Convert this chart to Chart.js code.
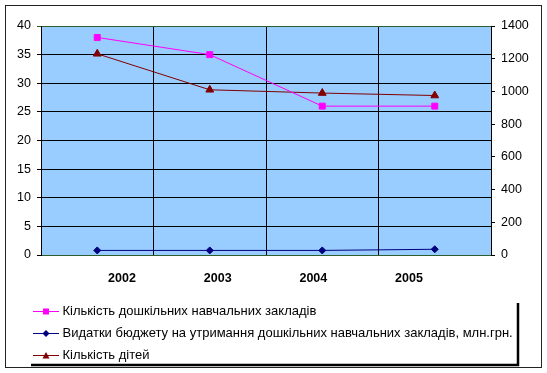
<!DOCTYPE html>
<html>
<head>
<meta charset="utf-8">
<script src="https://cdn.jsdelivr.net/npm/chart.js@4.4.0/dist/chart.umd.min.js"></script>
<style>
  html, body { margin: 0; padding: 0; background: #fff; }
</style>
</head>
<body>
<canvas id="myChart" width="547" height="373"></canvas>
<script>
//Дані з діаграми
const roky = ['2002', '2003', '2004', '2005'];
const kilkistZakladiv = [38, 35, 26, 26];
const vydatky = [0.8, 0.8, 0.8, 1.0];
const kilkistDitey = [1230, 1010, 990, 975];
//Поділки осей
const livaVis = [0, 5, 10, 15, 20, 25, 30, 35, 40];
const pravaVis = [0, 200, 400, 600, 800, 1000, 1200, 1400];

Chart.defaults.font.family = "'Liberation Sans', Arial, sans-serif";
Chart.defaults.color = '#000';

const ramka = '#2e5e2e';

//маленька картинка для легенди: лінія з маркером
const ikonka = (kolir, forma) => {
    const c = document.createElement('canvas');
    c.width = 26; c.height = 11;
    const g = c.getContext('2d');
    g.strokeStyle = kolir; g.fillStyle = kolir; g.lineWidth = 1;
    g.beginPath(); g.moveTo(0, 5.5); g.lineTo(26, 5.5); g.stroke();
    g.beginPath();
    if (forma === 'kvadrat') {
        g.rect(10, 2.5, 6, 6);
    } else if (forma === 'romb') {
        g.moveTo(13, 2); g.lineTo(16.5, 5.5); g.lineTo(13, 9); g.lineTo(9.5, 5.5); g.closePath();
    } else {
        g.moveTo(13, 2); g.lineTo(16.5, 8.5); g.lineTo(9.5, 8.5); g.closePath();
    }
    g.fill();
    return c;
};

//фон області побудови, рамка та тінь легенди
const tlo = {
    id: 'tlo',
    afterLayout(chart) {
        //легенда з відступом, як в оригіналі
        const l = chart.legend;
        l.left = 27;
        l.right = 520;
        l.width = l.right - l.left;
    },
    beforeDraw(chart) {
        const {ctx, chartArea: a} = chart;
        ctx.save();
        ctx.fillStyle = '#fff';
        ctx.fillRect(0, 0, chart.width, chart.height);
        ctx.fillStyle = '#99ccff';
        ctx.fillRect(a.left, a.top, a.right - a.left, a.bottom - a.top);
        ctx.strokeStyle = '#222';
        ctx.lineWidth = 1;
        ctx.strokeRect(5.5, 5.5, chart.width - 11, chart.height - 11);
        ctx.restore();
    },
    afterDraw(chart) {
        const l = chart.legend;
        const ctx = chart.ctx;
        ctx.save();
        ctx.strokeStyle = '#000';
        ctx.lineWidth = 2.5;
        ctx.beginPath();
        ctx.moveTo(l.right - 2, l.top + 7);
        ctx.lineTo(l.right - 2, l.bottom - 7);
        ctx.lineTo(l.left + 4, l.bottom - 7);
        ctx.stroke();
        ctx.restore();
    }
};

const kolory = ['#ff00ff', '#000080', '#800000'];
const ikonky = [ikonka(kolory[0], 'kvadrat'), ikonka(kolory[1], 'romb'), ikonka(kolory[2], 'trykutnyk')];

let ctx = document.getElementById('myChart').getContext('2d');
let myChart = new Chart(ctx, {
    type: 'line',
    data: {
        labels: roky,
        datasets: [{
            label: 'Кількість дошкільних навчальних закладів',
            data: kilkistZakladiv,
            borderColor: kolory[0],
            backgroundColor: kolory[0],
            borderWidth: 1,
            pointStyle: 'rect',
            pointRadius: 4.2,
            yAxisID: 'y'
        }, {
            label: 'Видатки бюджету на утримання дошкільних навчальних закладів, млн.грн.',
            data: vydatky,
            borderColor: kolory[1],
            backgroundColor: kolory[1],
            borderWidth: 1,
            pointStyle: 'rectRot',
            pointRadius: 3.5,
            yAxisID: 'y'
        }, {
            label: 'Кількість дітей',
            data: kilkistDitey,
            borderColor: kolory[2],
            backgroundColor: kolory[2],
            borderWidth: 1,
            pointStyle: 'triangle',
            pointRadius: 4.5,
            yAxisID: 'y1'
        }]
    },
    options: {
        responsive: false,
        animation: false,
        devicePixelRatio: 1,
        layout: { padding: { top: 26, left: 0, right: 0, bottom: 1 } },
        elements: { line: { tension: 0 } },
        plugins: {
            tooltip: { enabled: false },
            legend: {
                position: 'bottom',
                align: 'start',
                labels: {
                    usePointStyle: true,
                    pointStyleWidth: 20,
                    padding: 9,
                    color: '#000',
                    font: { size: 13 },
                    generateLabels: (chart) => chart.data.datasets.map((ds, i) => ({
                        text: ds.label,
                        pointStyle: ikonky[i],
                        fontColor: '#000',
                        fillStyle: kolory[i],
                        strokeStyle: kolory[i],
                        lineWidth: 0,
                        hidden: false,
                        datasetIndex: i
                    }))
                }
            }
        },
        scales: {
            x: {
                type: 'category',
                offset: true,
                grid: { offset: true, color: '#000', drawTicks: false },
                border: { color: ramka },
                ticks: { display: false },
                afterFit: (s) => { s.height = 0; }
            },
            x2: {
                type: 'linear',
                position: 'bottom',
                min: -0.847,
                max: 3.857,
                afterBuildTicks: (s) => { s.ticks = roky.map((r, i) => ({ value: i })); },
                grid: { display: false, drawTicks: false },
                border: { display: false },
                ticks: {
                    callback: (v) => roky[v],
                    font: { size: 12.5, weight: 'bold' },
                    color: '#000',
                    padding: 16,
                    autoSkip: false,
                    maxRotation: 0
                },
                afterFit: (s) => { s.height = 41; }
            },
            y: {
                position: 'left',
                min: livaVis[0],
                max: livaVis[livaVis.length - 1],
                ticks: { stepSize: livaVis[1] - livaVis[0], padding: 6, font: { size: 12.5 }, color: '#000', callback: (v) => String(v) },
                grid: { color: (c) => c.tick && c.tick.value === livaVis[livaVis.length - 1] ? ramka : '#000', tickLength: 4 },
                border: { color: '#000' },
                afterFit: (s) => { s.width = 41; }
            },
            y1: {
                position: 'right',
                min: pravaVis[0],
                max: pravaVis[pravaVis.length - 1],
                ticks: { stepSize: pravaVis[1] - pravaVis[0], padding: 6, font: { size: 12.5 }, color: '#000', callback: (v) => String(v) },
                grid: { drawOnChartArea: false, color: '#000', tickLength: 4 },
                border: { color: '#000' },
                afterFit: (s) => { s.width = 56; }
            }
        }
    },
    plugins: [tlo]
});
</script>
</body>
</html>
